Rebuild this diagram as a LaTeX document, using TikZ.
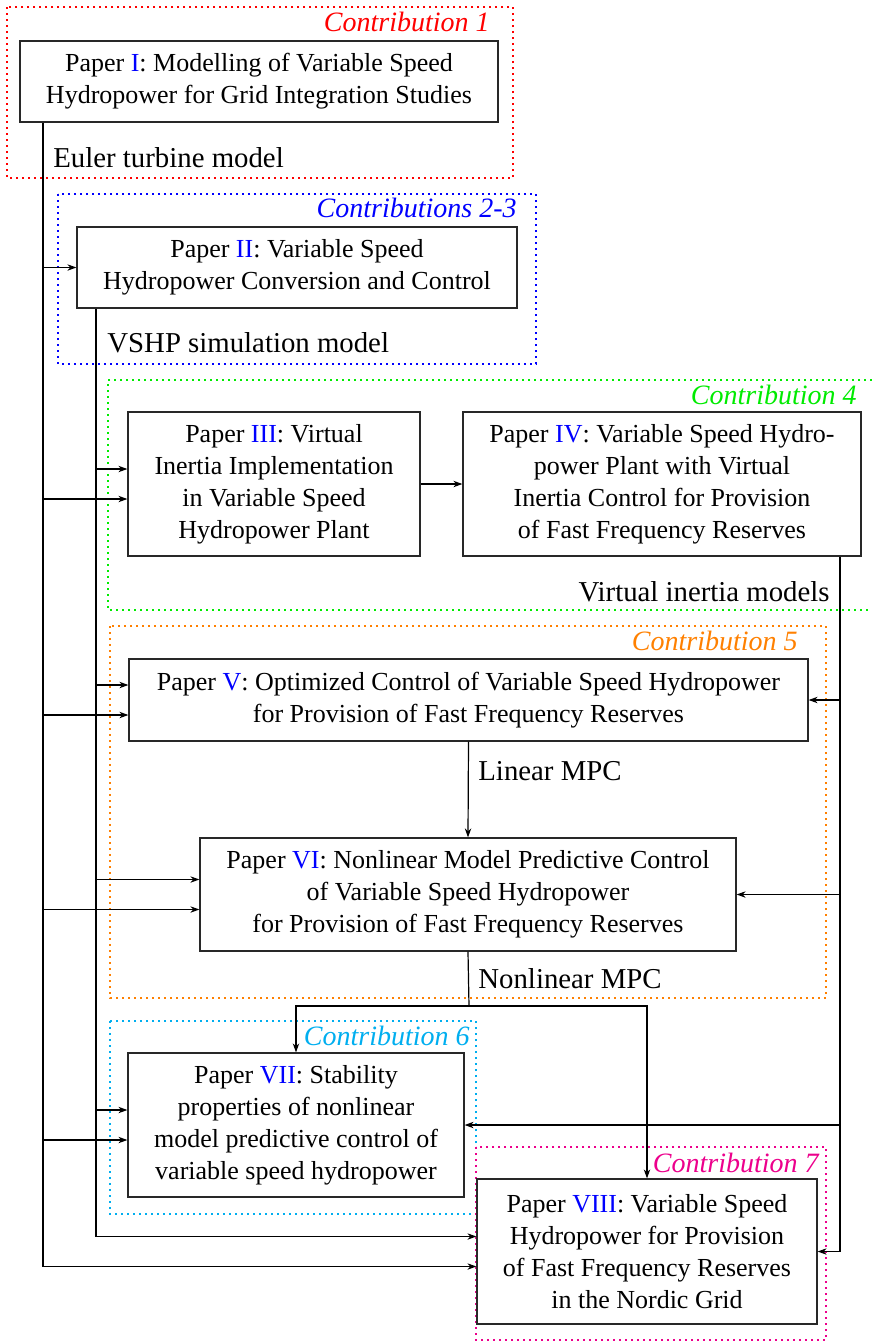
\documentclass[tikz,border=0pt]{standalone}
\usepackage{fontspec}
\setmainfont{Liberation Serif}
\usetikzlibrary{arrows.meta}
\definecolor{cOne}{RGB}{255,0,0}
\definecolor{cTwo}{RGB}{0,0,255}
\definecolor{cFour}{RGB}{0,235,0}
\definecolor{cFive}{RGB}{255,128,0}
\definecolor{cSix}{RGB}{0,174,239}
\definecolor{cSeven}{RGB}{236,0,140}
\definecolor{boxline}{RGB}{40,40,40}
\newcommand\papnum[1]{\textcolor{blue}{#1}}
\begin{document}
\begin{tikzpicture}[x=0.5pt,y=-0.5pt,
  paperbox/.style={draw=boxline, line width=0.6pt, inner sep=0pt, align=center,
    font=\fontsize{13}{16}\selectfont},
  lbl/.style={inner sep=0pt, font=\fontsize{14.4}{16}\selectfont},
  contlbl/.style={inner sep=0pt, anchor=east, font=\fontsize{14}{16}\selectfont\itshape},
  frame/.style={line width=1pt, dash pattern=on 1pt off 2pt},
  conn/.style={line width=0.6pt, draw=black},
  arr/.style={conn, -{Stealth[length=4.5pt,width=3.2pt]}}]
\useasboundingbox (0,0) rectangle (872,1341);

% contribution frames
\draw[frame, cOne] (7,7) rectangle (513,178);
\draw[frame, cTwo] (58,194) rectangle (536,364);
\draw[frame, cFour] (872,380) -- (108,380) -- (108,610) -- (872,610);
\draw[frame, cFive] (110,626) rectangle (826,998);
\draw[frame, cSix] (110,1021) rectangle (476,1214);
\draw[frame, cSeven] (476,1147) rectangle (826,1340);

\node[contlbl, text=cOne] (t1) at (490,22) {Contribution 1};
\node[contlbl, text=cTwo] (t2) at (517,208) {Contributions 2-3};
\node[contlbl, text=cFour] (t4) at (857,395) {Contribution 4};
\node[contlbl, text=cFive] (t5) at (798,641) {Contribution 5};
\node[contlbl, text=cSix] (t6) at (470,1036) {Contribution 6};
\node[contlbl, text=cSeven] (t7) at (819,1163) {Contribution 7};

% papers
\node[paperbox, minimum width=239pt, minimum height=40.5pt] (p1) at (259,81.5)
  {Paper \papnum{I}: Modelling of Variable Speed\\Hydropower for Grid Integration Studies};
\node[paperbox, minimum width=220pt, minimum height=40.5pt] (p2) at (297,267.5)
  {Paper \papnum{II}: Variable Speed\\Hydropower Conversion and Control};
\node[paperbox, minimum width=146pt, minimum height=72pt] (p3) at (274,484)
  {Paper \papnum{III}: Virtual\\Inertia Implementation\\in Variable Speed\\Hydropower Plant};
\node[paperbox, minimum width=199pt, minimum height=72pt] (p4) at (662,484)
  {Paper \papnum{IV}: Variable Speed Hydro-\\power Plant with Virtual\\Inertia Control for Provision\\of Fast Frequency Reserves};
\node[paperbox, minimum width=339.5pt, minimum height=41pt] (p5) at (468.5,700)
  {Paper \papnum{V}: Optimized Control of Variable Speed Hydropower\\for Provision of Fast Frequency Reserves};
\node[paperbox, minimum width=268pt, minimum height=56.5pt] (p6) at (468,894.5)
  {Paper \papnum{VI}: Nonlinear Model Predictive Control\\of Variable Speed Hydropower\\for Provision of Fast Frequency Reserves};
\node[paperbox, minimum width=168pt, minimum height=72pt] (p7) at (296,1125)
  {Paper \papnum{VII}: Stability\\properties of nonlinear\\model predictive control of\\variable speed hydropower};
\node[paperbox, minimum width=170pt, minimum height=72.5pt] (p8) at (647,1251.5)
  {Paper \papnum{VIII}: Variable Speed\\Hydropower for Provision\\of Fast Frequency Reserves\\in the Nordic Grid};

% labels
\node[lbl, anchor=west] (l1) at (53,158) {Euler turbine model};
\node[lbl, anchor=west] (l2) at (107,343) {VSHP simulation model};
\node[lbl, anchor=east] (l4) at (830,592) {Virtual inertia models};
\node[lbl, anchor=west] (l5) at (478,771) {Linear MPC};
\node[lbl, anchor=west] (l6) at (478,979) {Nonlinear MPC};

% bus coordinates
\coordinate (L1) at (43,0);
\coordinate (L2) at (96,0);
\coordinate (R) at (840,0);
\foreach \p in {p3,p5,p6,p7,p8}{
  \coordinate (\p a) at ([yshift=7.5pt]\p.west);
  \coordinate (\p b) at ([yshift=-7.5pt]\p.west);
}
\coordinate (p2b) at (p2.west);
\coordinate (sp) at (469,1006);

% main trunk from Paper I
\draw[arr] (p1.south -| L1) |- (p8b);
\foreach \p in {p2,p3,p5,p6,p7}{
  \draw[arr] (L1 |- \p b) -- (\p b);
}
% trunk from Paper II
\draw[arr] (p2.south -| L2) |- (p8a);
\foreach \p in {p3,p5,p6,p7}{
  \draw[arr] (L2 |- \p a) -- (\p a);
}
% Paper III -> IV
\draw[arr] (p3.east) -- (p4.west);
% trunk from Paper IV
\draw[arr] (p4.south -| R) |- (p8.east);
\foreach \p in {p5,p6,p7}{
  \draw[arr] (R |- \p.east) -- (\p.east);
}
% V -> VI
\draw[arr] (p5.south) -- (p6.north);
% VI -> VII, VIII
\draw[conn] (p6.south) -- (sp);
\draw[arr] (sp) -| (p7.north);
\draw[arr] (sp) -| (p8.north);
\end{tikzpicture}
\end{document}
